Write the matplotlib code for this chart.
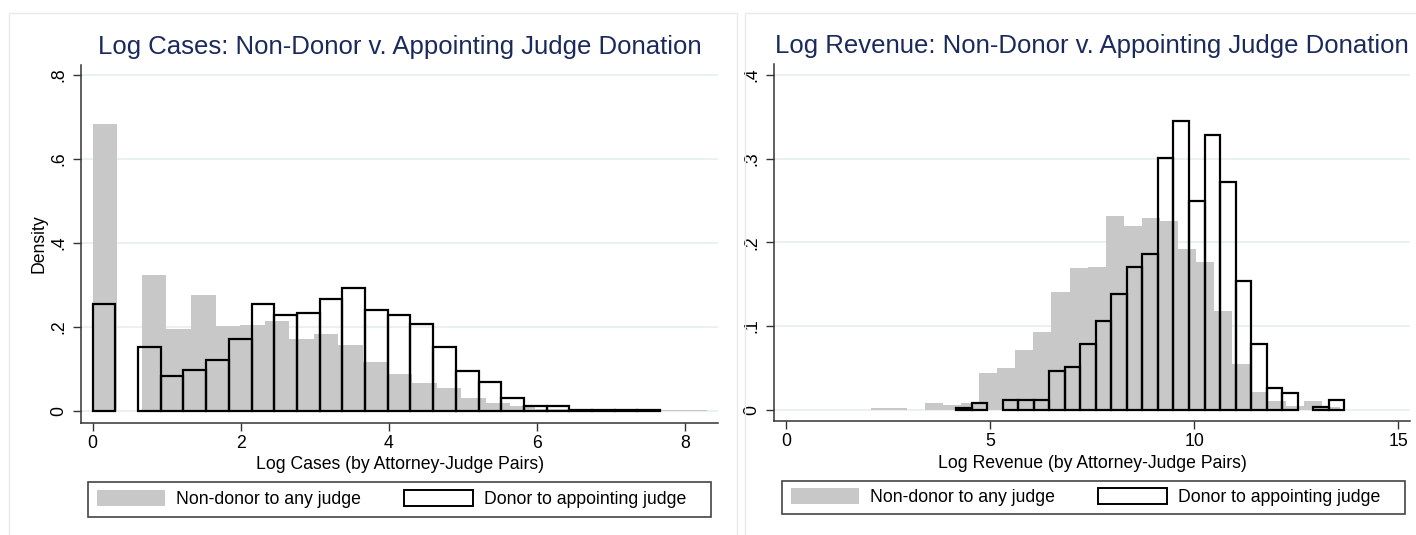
import numpy as np
import matplotlib
matplotlib.use("Agg")
import matplotlib.pyplot as plt
from matplotlib.patches import Rectangle, Patch

plt.rcParams['font.family'] = ['Liberation Sans', 'DejaVu Sans']

# ---- data (density per bin) ----
# left panel: log cases
cases_nondonor_start, cases_nondonor_width = 0.0, 0.332
cases_nondonor = [0.684, 0, 0.324, 0.195, 0.275, 0.201, 0.204, 0.214, 0.171, 0.183,
                  0.157, 0.117, 0.087, 0.067, 0.053, 0.030, 0.019, 0.010, 0.005, 0.004,
                  0.003, 0.003, 0.002, 0.002, 0.002]
cases_donor_start, cases_donor_width = 0.0, 0.3067
cases_donor = [0.254, 0, 0.151, 0.083, 0.097, 0.121, 0.171, 0.254, 0.227, 0.233,
               0.266, 0.292, 0.239, 0.227, 0.206, 0.151, 0.094, 0.068, 0.030, 0.012,
               0.012, 0.001, 0.002, 0.002, 0.002]

# right panel: log revenue
rev_nondonor_start, rev_nondonor_width = 2.09, 0.4415
rev_nondonor = [0.0017, 0.0017, 0, 0.0077, 0.0053, 0.0077, 0.0435, 0.0495, 0.0715, 0.0927,
                0.141, 0.169, 0.171, 0.232, 0.220, 0.229, 0.225, 0.192, 0.176, 0.118,
                0.0547, 0.0215, 0.0108, 0.0044, 0.0108, 0.003]
rev_donor_start, rev_donor_width = 4.167, 0.3805
rev_donor = [0.0024, 0.0076, 0, 0.0116, 0.0116, 0.0116, 0.0467, 0.051, 0.0787, 0.106,
             0.138, 0.170, 0.186, 0.3006, 0.3446, 0.249, 0.3286, 0.2727, 0.154, 0.0787,
             0.0264, 0.0196, 0, 0.003, 0.0113]

titles = ["Log Cases: Non-Donor v. Appointing Judge Donation",
          "Log Revenue: Non-Donor v. Appointing Judge Donation"]
xlabels = ["Log Cases (by Attorney-Judge Pairs)",
           "Log Revenue (by Attorney-Judge Pairs)"]
legend_labels = ["Non-donor to any judge", "Donor to appointing judge"]

GRAY = "#c8c8c8"
NAVY = "#1b2a5c"
GRID = "#e6eff1"
FS = 12.7


def hist_bars(ax, start, width, heights, **kw):
    h = np.array(heights, dtype=float)
    left = start + width * np.arange(len(h))
    keep = h > 0
    ax.bar(left[keep], h[keep], width=width, align="edge", **kw)


def style_axes(ax, xticks, yticks, yticklabels, xlim, ylim):
    ax.set_xlim(*xlim)
    ax.set_ylim(*ylim)
    ax.set_xticks(xticks)
    ax.set_yticks(yticks)
    ax.set_yticklabels(yticklabels, rotation=90, va="center")
    for s in ["top", "right"]:
        ax.spines[s].set_visible(False)
    for s in ["left", "bottom"]:
        ax.spines[s].set_color("#333333")
        ax.spines[s].set_linewidth(1.1)
    ax.tick_params(axis="both", labelsize=FS, length=6, width=1.0, color="#333333")
    ax.tick_params(axis="x", pad=3)
    ax.tick_params(axis="y", pad=4)
    ax.grid(axis="y", color=GRID, linewidth=1.2)
    ax.set_axisbelow(True)


fig = plt.figure(figsize=(14.16, 5.35), dpi=100)

# panel frames
fig.patches.append(Rectangle((9 / 1416, -0.01), 728 / 1416, 1 - 13 / 535 + 0.01,
                             transform=fig.transFigure, fill=False,
                             edgecolor="#e9e9e9", linewidth=1.0))
fig.patches.append(Rectangle((745 / 1416, -0.01), 680 / 1416, 1 - 13 / 535 + 0.01,
                             transform=fig.transFigure, fill=False,
                             edgecolor="#e9e9e9", linewidth=1.0))

ax1 = fig.add_axes([81.3 / 1416, 1 - 422.7 / 535, (718 - 81.3) / 1416, (422.7 - 65) / 535])
ax2 = fig.add_axes([774.3 / 1416, 1 - 421 / 535, (1410 - 774.3) / 1416, (421 - 64.3) / 535])

# left panel
hist_bars(ax1, cases_nondonor_start, cases_nondonor_width, cases_nondonor,
          color=GRAY, linewidth=0)
hist_bars(ax1, cases_donor_start, cases_donor_width, cases_donor,
          fill=False, edgecolor="black", linewidth=1.6)
style_axes(ax1, [0, 2, 4, 6, 8], [0, 0.2, 0.4, 0.6, 0.8], ["0", ".2", ".4", ".6", ".8"],
           (-0.154, 8.45), (-0.0287, 0.824))
ax1.set_ylabel("Density", fontsize=FS, labelpad=2)

# right panel
hist_bars(ax2, rev_nondonor_start, rev_nondonor_width, rev_nondonor,
          color=GRAY, linewidth=0)
hist_bars(ax2, rev_donor_start, rev_donor_width, rev_donor,
          fill=False, edgecolor="black", linewidth=1.6)
style_axes(ax2, [0, 5, 10, 15], [0, 0.1, 0.2, 0.3, 0.4], ["0", ".1", ".2", ".3", ".4"],
           (-0.287, 15.29), (-0.0135, 0.4128))

for ax, title, xlab in zip([ax1, ax2], titles, xlabels):
    ax.set_title(title, fontsize=18.5, color=NAVY, pad=8)
    ax.set_xlabel(xlab, fontsize=FS, labelpad=3)

# legends
handles = [Patch(facecolor=GRAY, edgecolor=GRAY, linewidth=0),
           Patch(facecolor="white", edgecolor="black", linewidth=1.4)]
leg_boxes = [(88, 481.7, 711, 516.7), (782, 480.7, 1405, 514.0)]
for (x0, y0, x1, y1) in leg_boxes:
    fig.patches.append(Rectangle((x0 / 1416, 1 - y1 / 535), (x1 - x0) / 1416, (y1 - y0) / 535,
                                 transform=fig.transFigure, fill=False,
                                 edgecolor="#444444", linewidth=1.2))
    fig.legend(handles, legend_labels, ncol=2, frameon=False, fontsize=FS,
               loc="center left", bbox_to_anchor=((x0 + 8.5) / 1416, 1 - (y0 + y1) / 2 / 535),
               borderaxespad=0, borderpad=0.0, handlelength=3.9, handleheight=1.02,
               handletextpad=0.62, columnspacing=2.44)

fig.savefig("out.png", dpi=100)
